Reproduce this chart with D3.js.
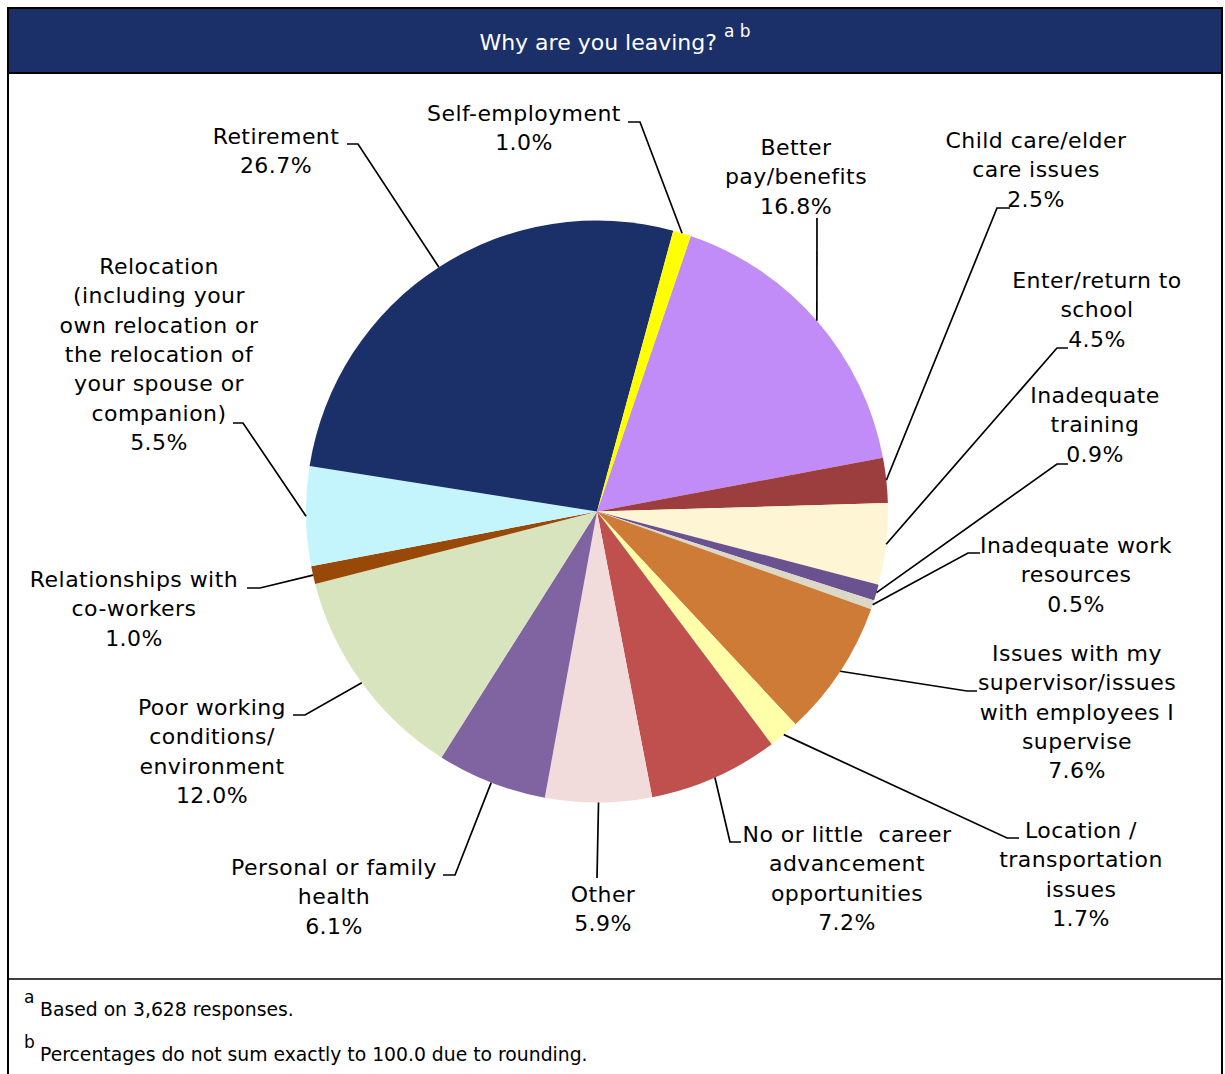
<!DOCTYPE html>
<html>
<head>
<meta charset="utf-8">
<script src="https://cdn.jsdelivr.net/npm/d3@7"></script>
<style>
  html, body { margin: 0; padding: 0; background: #ffffff; }
  svg { display: block; }
  text { font-family: "DejaVu Sans", Verdana, sans-serif; }
</style>
</head>
<body>
<svg id="chart" width="1225" height="1074"></svg>
<script>
// Reasons for leaving, in drawing order (clockwise)
const categories = [
  "Better pay/benefits",
  "Child care/elder care issues",
  "Enter/return to school",
  "Inadequate training",
  "Inadequate work resources",
  "Issues with my supervisor/issues with employees I supervise",
  "Location / transportation issues",
  "No or little career advancement opportunities",
  "Other",
  "Personal or family health",
  "Poor working conditions/ environment",
  "Relationships with co-workers",
  "Relocation (including your own relocation or the relocation of your spouse or companion)",
  "Retirement",
  "Self-employment"
];

// Share of responses, percent
const percents = [16.8, 2.5, 4.5, 0.9, 0.5, 7.6, 1.7, 7.2, 5.9, 6.1, 12.0, 1.0, 5.5, 26.7, 1.0];

// Wrapped label text for each slice
const labelLines = [
  ["Better", "pay/benefits"],
  ["Child care/elder", "care issues"],
  ["Enter/return to", "school"],
  ["Inadequate", "training"],
  ["Inadequate work", "resources"],
  ["Issues with my", "supervisor/issues", "with employees I", "supervise"],
  ["Location /", "transportation", "issues"],
  ["No or little  career", "advancement", "opportunities"],
  ["Other"],
  ["Personal or family", "health"],
  ["Poor working", "conditions/", "environment"],
  ["Relationships with", "co-workers"],
  ["Relocation", "(including your", "own relocation or", "the relocation of", "your spouse or", "companion)"],
  ["Retirement"],
  ["Self-employment"]
];

const sliceColors = [
  "#c28cf8", "#9d3e3e", "#fdf5d3", "#6a5290", "#dcd8c6",
  "#cd7b37", "#ffffaa", "#c0504d", "#f2dcdb", "#8064a2",
  "#d7e4bd", "#984807", "#c4f4fc", "#1b3068", "#ffff00"
];

// Label placement: text centre x, first baseline y, leader elbow and tail end x
const labelLayout = [
  { x: 796,  y: 155, elbow: [817, 218],  tail: 817 },
  { x: 1036, y: 148, elbow: [997, 208],  tail: 1010 },
  { x: 1097, y: 288, elbow: [1057, 348], tail: 1068 },
  { x: 1095, y: 403, elbow: [1057, 464], tail: 1068 },
  { x: 1076, y: 553, elbow: [968, 553],  tail: 980 },
  { x: 1077, y: 661, elbow: [967, 691],  tail: 977 },
  { x: 1081, y: 838, elbow: [1007, 838], tail: 1019 },
  { x: 847,  y: 842, elbow: [730, 842],  tail: 741 },
  { x: 603,  y: 902, elbow: [597, 878],  tail: 597 },
  { x: 334,  y: 875, elbow: [455, 875],  tail: 443 },
  { x: 212,  y: 715, elbow: [305, 715],  tail: 293 },
  { x: 134,  y: 587, elbow: [260, 588],  tail: 247 },
  { x: 159,  y: 274, elbow: [243, 423],  tail: 233 },
  { x: 276,  y: 144, elbow: [358, 144],  tail: 347 },
  { x: 524,  y: 121, elbow: [640, 122],  tail: 628 }
];

const W = 1225, H = 1074;
const frame = { left: 8, right: 1222, top: 8, headerBottom: 73, footTop: 979 };
const cx = 597, cy = 511.5, radius = 291;
const startDeg = 18.8;
const lineH = 29.3;

const svg = d3.select("#chart");

// Header band
svg.append("rect")
  .attr("x", frame.left).attr("y", frame.top)
  .attr("width", frame.right - frame.left)
  .attr("height", frame.headerBottom - frame.top)
  .attr("fill", "#1b3068");

const title = svg.append("text")
  .attr("x", (frame.left + frame.right) / 2)
  .attr("y", 50)
  .attr("text-anchor", "middle")
  .attr("fill", "#ffffff")
  .attr("font-size", 22);
title.append("tspan").text("Why are you leaving?");
title.append("tspan").attr("dx", 7).attr("dy", -13).attr("font-size", 17).text("a b");

// Pie
const data = categories.map((c, i) => ({ name: c, value: percents[i], i }));
const start = startDeg * Math.PI / 180;
const pie = d3.pie().sort(null).value(d => d.value)
  .startAngle(start).endAngle(start + 2 * Math.PI);
const arcs = pie(data);
const arc = d3.arc().innerRadius(0).outerRadius(radius);

const g = svg.append("g").attr("transform", `translate(${cx},${cy})`);
g.selectAll("path.slice")
  .data(arcs)
  .join("path")
  .attr("class", "slice")
  .attr("d", arc)
  .attr("fill", d => sliceColors[d.data.i]);

// Leader lines from the slice's outer edge at its mid-angle
const fmt = d3.format(".1f");
const leaders = svg.append("g")
  .attr("fill", "none").attr("stroke", "#000").attr("stroke-width", 1.7);
arcs.forEach(a => {
  const mid = (a.startAngle + a.endAngle) / 2;
  const px = cx + radius * Math.sin(mid);
  const py = cy - radius * Math.cos(mid);
  const L = labelLayout[a.data.i];
  const path = d3.path();
  path.moveTo(px, py);
  path.lineTo(L.elbow[0], L.elbow[1]);
  if (L.tail !== L.elbow[0]) path.lineTo(L.tail, L.elbow[1]);
  leaders.append("path").attr("d", path.toString());
});

// Labels
const labels = svg.append("g")
  .attr("font-size", 22).attr("letter-spacing", 0.45).attr("fill", "#000");
arcs.forEach(a => {
  const i = a.data.i;
  const L = labelLayout[i];
  const lines = labelLines[i].concat([fmt(a.data.value) + "%"]);
  const t = labels.append("text")
    .attr("text-anchor", "middle")
    .attr("x", L.x).attr("y", L.y)
    .attr("xml:space", "preserve");
  lines.forEach((s, k) => {
    t.append("tspan").attr("x", L.x).attr("y", L.y + k * lineH).text(s);
  });
});

// Frame lines
const border = svg.append("g").attr("stroke", "#000").attr("fill", "none");
border.append("rect")
  .attr("x", frame.left).attr("y", frame.top)
  .attr("width", frame.right - frame.left)
  .attr("height", H + 10 - frame.top)
  .attr("stroke-width", 2);
border.append("line")
  .attr("x1", frame.left).attr("x2", frame.right)
  .attr("y1", frame.headerBottom).attr("y2", frame.headerBottom)
  .attr("stroke-width", 2);
border.append("line")
  .attr("x1", frame.left).attr("x2", frame.right)
  .attr("y1", frame.footTop).attr("y2", frame.footTop)
  .attr("stroke-width", 1.5);

// Footnotes
const notes = [
  { mark: "a", text: "Based on 3,628 responses.", y: 1016 },
  { mark: "b", text: "Percentages do not sum exactly to 100.0 due to rounding.", y: 1061 }
];
const fn = svg.append("g").attr("fill", "#000");
notes.forEach(n => {
  fn.append("text").attr("x", 24).attr("y", n.y - 13).attr("font-size", 17).text(n.mark);
  fn.append("text").attr("x", 40).attr("y", n.y).attr("font-size", 18.8).text(n.text);
});
</script>
</body>
</html>
